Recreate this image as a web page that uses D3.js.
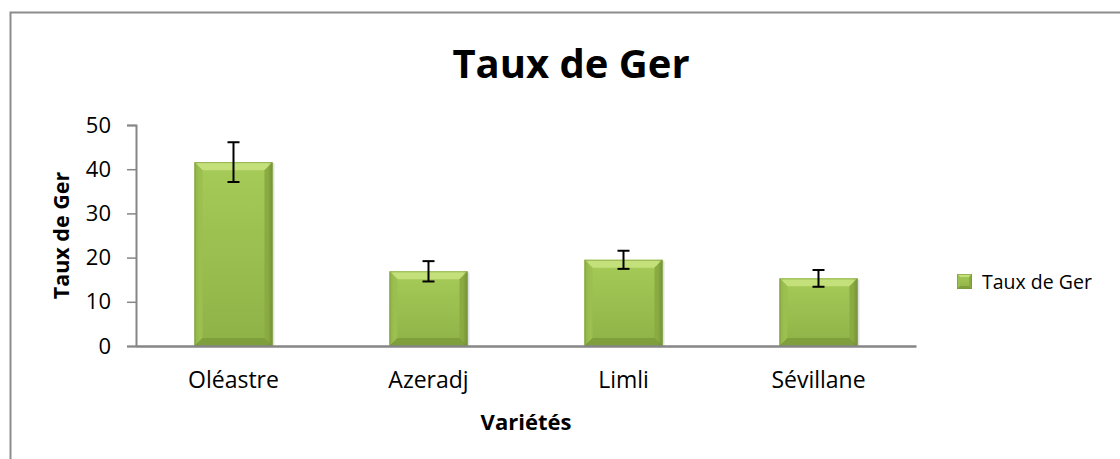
<!DOCTYPE html>
<html><head><meta charset="utf-8">
<script src="https://cdn.jsdelivr.net/npm/d3@7"></script>
<style>body{margin:0;background:#fff}svg{display:block}text{font-family:"Open Sans",sans-serif}</style>
</head><body><svg id="c" width="1120" height="459"></svg>
<script>
const categories = ["Oléastre", "Azeradj", "Limli", "Sévillane"];
const values = [41.6, 16.9, 19.5, 15.3];
const errors = [4.5, 2.3, 2.05, 1.9];
const yTicks = [0, 10, 20, 30, 40, 50];
const seriesName = "Taux de Ger";
const title = "Taux de Ger";
const xTitle = "Variétés";
const yTitle = "Taux de Ger";

const svg = d3.select("#c");
const W = 1120, H = 459;
const m = {left:136, right:W-916, top:125, bottom:H-346};
const x = d3.scaleBand().domain(categories).range([m.left, W-m.right]).paddingInner(0.6).paddingOuter(0.3);
const y = d3.scaleLinear().domain([0,50]).range([H-m.bottom, m.top]);

// frame
svg.append("rect").attr("x",10.5).attr("y",12.5).attr("width",1200).attr("height",600)
  .attr("fill","none").attr("stroke","#8c8c8c").attr("stroke-width",2);

const defs = svg.append("defs");
const g1 = defs.append("linearGradient").attr("id","body").attr("x1",0).attr("y1",0).attr("x2",0).attr("y2",1);
g1.append("stop").attr("offset","0%").attr("stop-color","#a6cb58");
g1.append("stop").attr("offset","100%").attr("stop-color","#8fb247");
const g2 = defs.append("linearGradient").attr("id","side").attr("x1",0).attr("y1",0).attr("x2",1).attr("y2",0);
g2.append("stop").attr("offset","0%").attr("stop-color","#000").attr("stop-opacity",0.08);
g2.append("stop").attr("offset","6%").attr("stop-color","#000").attr("stop-opacity",0);
g2.append("stop").attr("offset","94%").attr("stop-color","#000").attr("stop-opacity",0);
g2.append("stop").attr("offset","100%").attr("stop-color","#000").attr("stop-opacity",0.15);

const bev = 8;
function drawBevelBar(sel, x0, y0, w, h, isLegend) {
  const b = Math.min(isLegend ? 3 : bev, h/3, w/3);
  const x1 = x0 + w, y1 = y0 + h;
  if (!isLegend) sel.append("rect").attr("x",x0+2).attr("y",y0+1).attr("width",w).attr("height",h).attr("fill","#000").attr("opacity",0.12);
  sel.append("rect").attr("x",x0).attr("y",y0).attr("width",w).attr("height",h).attr("fill","url(#body)");
  sel.append("polygon").attr("points",`${x0},${y0} ${x1},${y0} ${x1-b},${y0+b} ${x0+b},${y0+b}`).attr("fill","#c3e07a");
  sel.append("polygon").attr("points",`${x0},${y0} ${x0+b},${y0+b} ${x0+b},${y1-b} ${x0},${y1}`).attr("fill","#9cc04f");
  sel.append("polygon").attr("points",`${x1},${y0} ${x1},${y1} ${x1-b},${y1-b} ${x1-b},${y0+b}`).attr("fill","#8aab42");
  sel.append("polygon").attr("points",`${x0},${y1} ${x0+b},${y1-b} ${x1-b},${y1-b} ${x1},${y1}`).attr("fill","#7f9e3c");
  sel.append("rect").attr("x",x0).attr("y",y0).attr("width",w).attr("height",h).attr("fill","url(#side)");
  sel.append("rect").attr("x",x0+0.5).attr("y",y0+0.5).attr("width",w-1).attr("height",h-1).attr("fill","none").attr("stroke","#7a9a38").attr("stroke-opacity",0.6);
}

// bars
const bars = svg.append("g");
categories.forEach((c,i)=>{
  const g = bars.append("g");
  drawBevelBar(g, x(c), y(values[i]), x.bandwidth(), y(0)-y(values[i]), false);
});

// axes
const yAxis = svg.append("g").attr("transform",`translate(${m.left},0)`)
  .call(d3.axisLeft(y).tickValues(yTicks).tickSize(9).tickPadding(16).tickFormat(d3.format("d")));
yAxis.select(".domain").attr("stroke","#868686").attr("stroke-width",2);
yAxis.selectAll(".tick line").attr("stroke","#868686").attr("stroke-width",1.5);
yAxis.selectAll("text").attr("font-size",22).attr("fill","#000").attr("font-family","Open Sans");

const xAxis = svg.append("g").attr("transform",`translate(0,${y(0)})`)
  .call(d3.axisBottom(x).tickSize(0).tickPadding(26));
xAxis.select(".domain").attr("stroke","#868686").attr("stroke-width",2.5);
xAxis.selectAll("text").attr("font-size",23).attr("fill","#000").attr("font-family","Open Sans");

// error bars
const eb = svg.append("g").attr("stroke","#000").attr("stroke-width",2);
categories.forEach((c,i)=>{
  const cx = x(c) + x.bandwidth()/2;
  eb.append("line").attr("x1",cx).attr("x2",cx).attr("y1",y(values[i]+errors[i])).attr("y2",y(values[i]-errors[i]));
  [values[i]+errors[i], values[i]-errors[i]].forEach(v=>{
    eb.append("line").attr("x1",cx-6).attr("x2",cx+6).attr("y1",y(v)).attr("y2",y(v));
  });
});

// titles
svg.append("text").attr("x",571).attr("y",78).attr("text-anchor","middle")
  .attr("font-size",40).attr("font-weight","bold").text(title);
svg.append("text").attr("x",(m.left + W-m.right)/2).attr("y",430).attr("text-anchor","middle")
  .attr("font-size",22).attr("font-weight","bold").text(xTitle);
svg.append("text").attr("transform",`translate(69,${(y(0)+y(50))/2}) rotate(-90)`).attr("text-anchor","middle")
  .attr("font-size",21.5).attr("font-weight","bold").text(yTitle);

// legend
const lg = svg.append("g");
drawBevelBar(lg, 957, 274, 15, 15, true);
lg.append("text").attr("x",982).attr("y",288.5).attr("font-size",19.5).text(seriesName);
</script></body></html>
